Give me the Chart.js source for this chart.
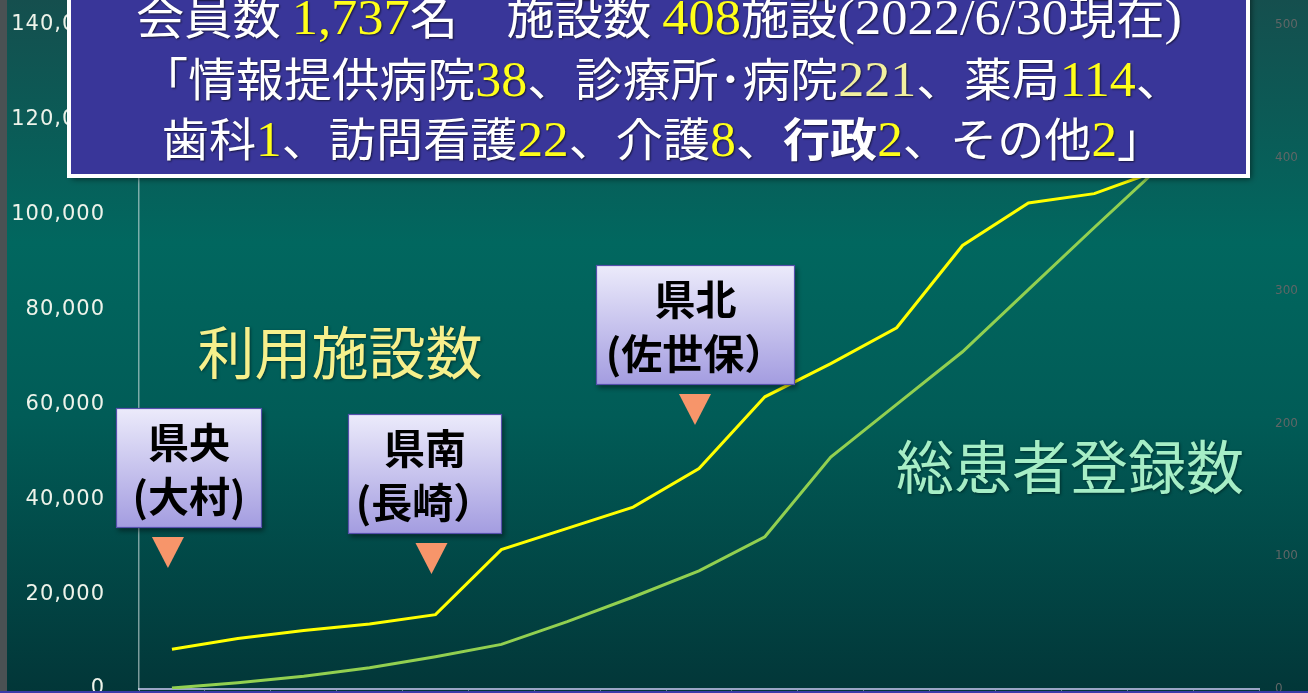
<!DOCTYPE html>
<html>
<head>
<meta charset="utf-8">
<script src="https://cdn.jsdelivr.net/npm/chart.js@4"></script>
<style>
  html, body { margin: 0; padding: 0; background: #003a3a; overflow: hidden; }
  #wrap { width: 1308px; height: 693px; }
</style>
</head>
<body>
<div id="wrap"><canvas id="c" width="1308" height="693"></canvas></div>
<script>
// Reporting periods, oldest first (the last one is 2022/6/30)
const periods = ['1', '2', '3', '4', '5', '6', '7', '8', '9', '10', '11', '12', '13', '14', '15', '16', '17'];

// 総患者登録数 (total registered patients) – left axis
const patientTotals = [200, 1300, 2700, 4500, 6800, 9400, 14200, 19400, 24900, 32100, 48900, 60000, 71100, 84200, 97300, 110200, 122500];

// 利用施設数 (participating facilities) – right axis
const facilityTotals = [30, 38, 44, 49, 56, 105, 121, 137, 166, 220, 245, 272, 334, 366, 373, 391, 408];

// Axis tick values
const patientTicks = [0, 20000, 40000, 60000, 80000, 100000, 120000, 140000];
const facilityTicks = [0, 100, 200, 300, 400, 500];

// Regional rollout callouts: label lines and the period they point at
const regionNames = [['県央', '(大村)'], ['県南', '(長崎）'], ['県北', '(佐世保）']];
const regionPeriods = [0, 4, 8];

const JP = '"Noto Sans CJK JP", "Noto Sans", sans-serif';
const SERIF = '"Liberation Serif", "DejaVu Serif", serif';

// Draws one line of mixed-font text centred on cx, widened by sx
function drawRuns(ctx, runs, cx, baseline, sx) {
  let total = 0;
  runs.forEach(r => { ctx.font = r.font; r.w = ctx.measureText(r.t).width; total += r.w; });
  ctx.save();
  ctx.translate(cx, baseline);
  ctx.scale(sx, 1);
  let x = -total / 2;
  runs.forEach(r => {
    ctx.font = r.font;
    ctx.fillStyle = r.color;
    ctx.fillText(r.t, x, 0);
    x += r.w;
  });
  ctx.restore();
}

const backdrop = {
  id: 'backdrop',
  beforeDraw(chart) {
    const { ctx, width, height } = chart;
    ctx.save();
    const g = ctx.createLinearGradient(0, 0, 0, height);
    g.addColorStop(0, '#154f4e');
    g.addColorStop(0.35, '#01675f');
    g.addColorStop(0.6, '#015c57');
    g.addColorStop(1, '#023638');
    ctx.fillStyle = g;
    ctx.fillRect(0, 0, width, height);
    ctx.fillStyle = '#4a5153';
    ctx.fillRect(0, 0, 7, height);
    ctx.restore();
  }
};

const overlay = {
  id: 'overlay',
  afterDraw(chart) {
    const { ctx } = chart;
    const xs = chart.scales.x;
    ctx.save();

    // Big series captions
    ctx.textAlign = 'center';
    ctx.textBaseline = 'alphabetic';
    ctx.shadowColor = 'rgba(0,0,0,0.45)';
    ctx.shadowBlur = 3;
    ctx.shadowOffsetX = 1;
    ctx.shadowOffsetY = 1;
    ctx.font = '400 57px ' + JP;
    ctx.fillStyle = '#f6f08c';
    ctx.fillText('利用施設数', 340, 374);
    ctx.font = '400 58px ' + JP;
    ctx.fillStyle = '#a6eec6';
    ctx.fillText('総患者登録数', 1070, 489);

    // Regional callouts: box + pointer triangle above a period
    const boxes = [
      { x: 116, y: 408, w: 146, h: 120 },
      { x: 348, y: 414, w: 154, h: 120 },
      { x: 596, y: 265, w: 199, h: 120 }
    ];
    boxes.forEach((b, i) => {
      ctx.shadowColor = 'rgba(0,0,0,0.45)';
      ctx.shadowBlur = 5;
      ctx.shadowOffsetX = 2;
      ctx.shadowOffsetY = 3;
      const g = ctx.createLinearGradient(0, b.y, 0, b.y + b.h);
      g.addColorStop(0, '#ecebfb');
      g.addColorStop(1, '#a39ce0');
      ctx.fillStyle = g;
      ctx.fillRect(b.x, b.y, b.w, b.h);
      ctx.shadowColor = 'transparent';
      ctx.strokeStyle = '#5650ac';
      ctx.lineWidth = 1.2;
      ctx.strokeRect(b.x + 0.5, b.y + 0.5, b.w - 1, b.h - 1);

      ctx.fillStyle = '#000';
      ctx.font = '700 41px ' + JP;
      ctx.textAlign = 'center';
      const cx = b.x + b.w / 2;
      ctx.fillText(regionNames[i][0], cx, b.y + 50);
      ctx.fillText(regionNames[i][1], cx, b.y + 104);

      const tx = xs.getPixelForValue(regionPeriods[i]) - 4;
      const ty = b.y + b.h + 9;
      ctx.fillStyle = '#f7956a';
      ctx.beginPath();
      ctx.moveTo(tx - 16, ty);
      ctx.lineTo(tx + 16, ty);
      ctx.lineTo(tx, ty + 31);
      ctx.closePath();
      ctx.fill();
    });

    // Summary panel
    ctx.shadowColor = 'rgba(0,0,0,0.55)';
    ctx.shadowBlur = 6;
    ctx.shadowOffsetX = 3;
    ctx.shadowOffsetY = 3;
    ctx.fillStyle = '#393699';
    ctx.fillRect(69, -10, 1179, 186);
    ctx.shadowColor = 'transparent';
    ctx.strokeStyle = '#ffffff';
    ctx.lineWidth = 4;
    ctx.strokeRect(69, -10, 1179, 186);

    ctx.textAlign = 'left';
    ctx.shadowColor = 'rgba(0,0,0,0.6)';
    ctx.shadowBlur = 2;
    ctx.shadowOffsetX = 1;
    ctx.shadowOffsetY = 1;
    const jp = '400 46px ' + JP;
    const jpb = '700 46px ' + JP;
    const sf = '400 50px ' + SERIF;
    const W = '#ffffff', Y = '#ffff1a', PY = '#f2f0a0';
    drawRuns(ctx, [
      { t: '会員数 ', font: jp, color: W },
      { t: '1,737', font: sf, color: Y },
      { t: '名　施設数 ', font: jp, color: W },
      { t: '408', font: sf, color: Y },
      { t: '施設', font: jp, color: W },
      { t: '(2022/6/30', font: sf, color: W },
      { t: '現在', font: jp, color: W },
      { t: ')', font: sf, color: W }
    ], 659, 34, 1.05);
    drawRuns(ctx, [
      { t: '「情報提供病院', font: jp, color: W },
      { t: '38', font: sf, color: Y },
      { t: '、診療所･病院', font: jp, color: W },
      { t: '221', font: sf, color: PY },
      { t: '、薬局', font: jp, color: W },
      { t: '114', font: sf, color: Y },
      { t: '、', font: jp, color: W }
    ], 662, 96, 1.04);
    drawRuns(ctx, [
      { t: '歯科', font: jp, color: W },
      { t: '1', font: sf, color: Y },
      { t: '、訪問看護', font: jp, color: W },
      { t: '22', font: sf, color: Y },
      { t: '、介護', font: jp, color: W },
      { t: '8', font: sf, color: Y },
      { t: '、', font: jp, color: W },
      { t: '行政', font: jpb, color: W },
      { t: '2', font: sf, color: Y },
      { t: '、その他', font: jp, color: W },
      { t: '2', font: sf, color: Y },
      { t: '」', font: jp, color: W }
    ], 663, 156, 1.025);

    // Slide frame strip along the bottom edge
    ctx.shadowColor = 'transparent';
    ctx.fillStyle = '#3b3ba8';
    ctx.fillRect(0, 691, chart.width, 2);
    ctx.restore();
  }
};

// Left axis labels are drawn slightly tracked out
function spacedLabels(s) {
  if (s._spaced) return;
  s._spaced = true;
  const base = s.drawLabels;
  s.drawLabels = function (area) {
    const c = this.ctx;
    c.save();
    c.letterSpacing = '1px';
    base.call(this, area);
    c.restore();
  };
}

new Chart(document.getElementById('c'), {
  type: 'line',
  data: {
    labels: periods,
    datasets: [
      {
        label: '総患者登録数',
        data: patientTotals,
        yAxisID: 'y',
        borderColor: '#92d050',
        borderWidth: 3,
        pointRadius: 0,
        tension: 0,
        fill: false
      },
      {
        label: '利用施設数',
        data: facilityTotals,
        yAxisID: 'y1',
        borderColor: '#ffff00',
        borderWidth: 3,
        pointRadius: 0,
        tension: 0,
        fill: false
      }
    ]
  },
  options: {
    responsive: false,
    animation: false,
    devicePixelRatio: 1,
    layout: { padding: { top: 25, left: 0, right: 0, bottom: 0 } },
    plugins: { legend: { display: false }, tooltip: { enabled: false } },
    scales: {
      x: {
        type: 'category',
        offset: true,
        grid: { display: true, drawOnChartArea: false, drawTicks: true, tickLength: 3, color: 'rgba(190,200,225,0.55)', offset: true },
        border: { display: true, color: '#9aa5c6', width: 2 },
        ticks: { display: false },
        afterFit(s) { s.height = 4; s.paddingLeft = 0; s.paddingRight = 0; }
      },
      y: {
        position: 'left',
        min: 0,
        max: 140000,
        afterBuildTicks(s) { s.ticks = patientTicks.map(v => ({ value: v })); },
        ticks: {
          color: '#eef3ea',
          font: { family: '"DejaVu Sans", sans-serif', size: 21 },
          padding: 34,
          callback: v => v.toLocaleString('en-US')
        },
        grid: { display: false, drawTicks: false },
        border: { display: true, color: 'rgba(225,235,235,0.55)', width: 1.5 },
        afterFit(s) { s.width = 139; s.paddingTop = 0; s.paddingBottom = 0; spacedLabels(s); }
      },
      y1: {
        position: 'right',
        min: 0,
        max: 500,
        afterBuildTicks(s) { s.ticks = facilityTicks.map(v => ({ value: v })); },
        ticks: {
          color: '#5f6666',
          font: { family: '"DejaVu Sans", sans-serif', size: 12 },
          padding: 16
        },
        grid: { display: false, drawTicks: false },
        border: { display: false },
        afterFit(s) { s.width = 49; s.paddingTop = 0; s.paddingBottom = 0; }
      }
    }
  },
  plugins: [backdrop, overlay]
});
</script>
</body>
</html>
